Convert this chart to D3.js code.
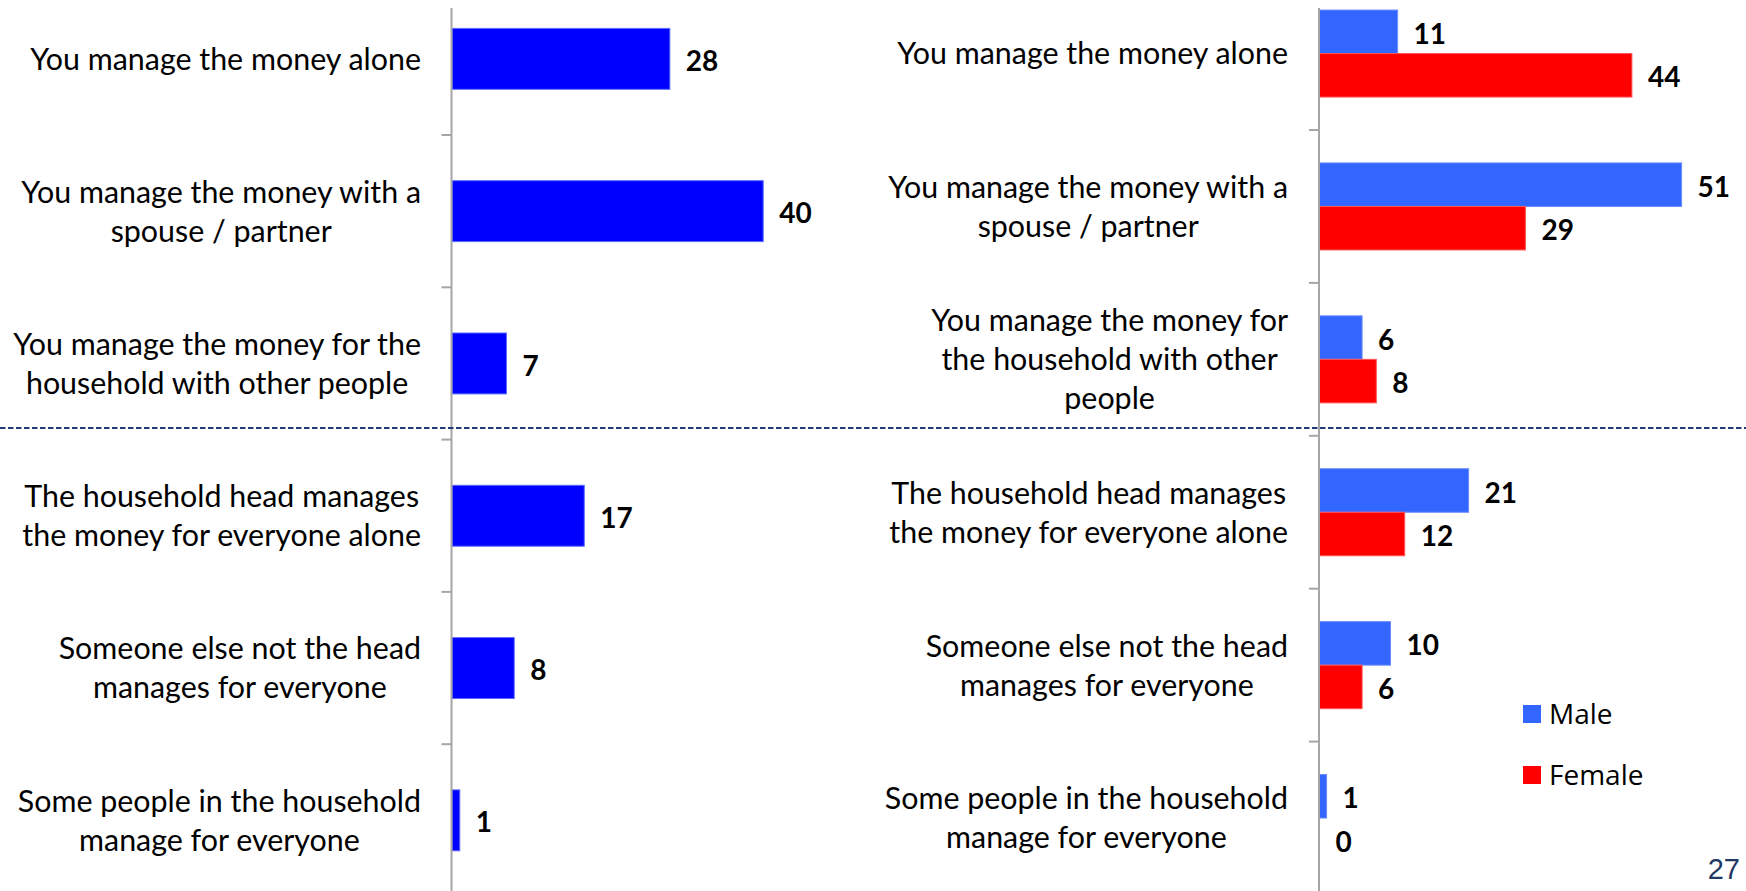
<!DOCTYPE html>
<html>
<head>
<meta charset="utf-8">
<script src="https://cdn.jsdelivr.net/npm/d3@7/dist/d3.min.js"></script>
<style>
  html, body { margin: 0; padding: 0; background: #fff; overflow: hidden; }
  svg { display: block; }
</style>
</head>
<body>
<svg id="chart" width="1746" height="891"></svg>
<script>
// Who manages the household money — overall and by gender (%)
const categories = [
  "You manage the money alone",
  "You manage the money with a spouse / partner",
  "You manage the money for the household with other people",
  "The household head manages the money for everyone alone",
  "Someone else not the head manages for everyone",
  "Some people in the household manage for everyone"
];

// Line breaks used for the category labels of each panel
const leftLabelLines = [
  ["You manage the money alone"],
  ["You manage the money with a", "spouse / partner"],
  ["You manage the money for the", "household with other people"],
  ["The household head manages", "the money for everyone alone"],
  ["Someone else not the head", "manages for everyone"],
  ["Some people in the household", "manage for everyone"]
];
const rightLabelLines = [
  ["You manage the money alone"],
  ["You manage the money with a", "spouse / partner"],
  ["You manage the money for", "the household with other", "people"],
  ["The household head manages", "the money for everyone alone"],
  ["Someone else not the head", "manages for everyone"],
  ["Some people in the household", "manage for everyone"]
];

const totalValues  = [28, 40, 7, 17, 8, 1];
const maleValues   = [11, 51, 6, 21, 10, 1];
const femaleValues = [44, 29, 8, 12, 6, 0];

const seriesNames = ["Male", "Female"];
const pageNumber = "27";

const svg = d3.select("#chart");

const LABEL_FONT = "Lato, 'Open Sans', sans-serif";
const colors = { total: "#0000FF", Male: "#3366FF", Female: "#FF0000" };

// ---------- shared helpers ----------
function drawCategoryAxis(g, y, axisX, top, bottom) {
  g.append("line")
    .attr("x1", axisX).attr("x2", axisX)
    .attr("y1", top).attr("y2", bottom)
    .attr("stroke", "#A6A6A6").attr("stroke-width", 2);
  // tick marks sit on the boundaries between categories
  g.selectAll("line.tick")
    .data(categories.slice(1))
    .join("line")
    .attr("class", "tick")
    .attr("x1", axisX - 10).attr("x2", axisX)
    .attr("y1", d => y(d)).attr("y2", d => y(d))
    .attr("stroke", "#A6A6A6").attr("stroke-width", 2);
}

function drawCategoryLabels(g, y, lines, rightEdge) {
  const lineH = 39;
  categories.forEach((c, i) => {
    const block = g.append("g");
    const ls = lines[i];
    const cy = y(c) + y.bandwidth() / 2;
    const texts = ls.map((t, k) =>
      block.append("text")
        .attr("x", 0)
        .attr("y", cy + (k - (ls.length - 1) / 2) * lineH)
        .attr("dy", "0.36em")
        .attr("text-anchor", "middle")
        .attr("font-family", LABEL_FONT)
        .attr("font-size", 30.4)
        .attr("fill", "#000")
        .text(t)
    );
    const maxW = d3.max(texts, t => t.node().getComputedTextLength());
    block.attr("transform", `translate(${rightEdge - maxW / 2},0)`);
  });
}

function valueLabel(g, x, yc, v) {
  g.append("text")
    .attr("x", x)
    .attr("y", yc + 2)
    .attr("dy", "0.36em")
    .attr("font-family", LABEL_FONT)
    .attr("font-weight", 700)
    .attr("font-size", 28)
    .attr("fill", "#000")
    .text(v);
}

// ---------- left panel: all respondents ----------
const yL = d3.scaleBand().domain(categories).range([-17.3, 896.5]).padding(0);
const xL = d3.scaleLinear().domain([0, 50]).range([452, 452 + 389]);

const left = svg.append("g");
drawCategoryLabels(left, yL, leftLabelLines, 421);

const barHL = yL.bandwidth() * 0.4;
left.selectAll("rect.bar")
  .data(categories)
  .join("rect")
  .attr("class", "bar")
  .attr("x", xL(0))
  .attr("y", d => yL(d) + (yL.bandwidth() - barHL) / 2)
  .attr("width", (d, i) => xL(totalValues[i]) - xL(0))
  .attr("height", barHL)
  .attr("fill", colors.total)
  .attr("stroke", "#5a6cff")
  .attr("stroke-width", 1);

categories.forEach((c, i) => {
  valueLabel(left, xL(totalValues[i]) + 16, yL(c) + yL.bandwidth() / 2, totalValues[i]);
});
drawCategoryAxis(left, yL, 451.5, 8, 891);

// ---------- right panel: by gender ----------
const yR = d3.scaleBand().domain(categories).range([-22.9, 894.5]).padding(0);
const ySub = d3.scaleBand().domain(seriesNames).range([0, yR.bandwidth()])
  .paddingInner(0).paddingOuter(0.757);
const xR = d3.scaleLinear().domain([0, 60]).range([1319.5, 1319.5 + 426]);

const right = svg.append("g");
drawCategoryLabels(right, yR, rightLabelLines, 1288);

const genderRows = categories.map((c, i) => [
  { cat: c, key: "Male", value: maleValues[i] },
  { cat: c, key: "Female", value: femaleValues[i] }
]).flat();

right.selectAll("rect.bar")
  .data(genderRows)
  .join("rect")
  .attr("class", "bar")
  .attr("x", xR(0))
  .attr("y", d => yR(d.cat) + ySub(d.key))
  .attr("width", d => xR(d.value) - xR(0))
  .attr("height", ySub.bandwidth())
  .attr("fill", d => colors[d.key])
  .attr("stroke", d => d.key === "Male" ? "#6b8cff" : "#ff5555")
  .attr("stroke-width", 1);

genderRows.forEach(d => {
  valueLabel(right, xR(d.value) + 16, yR(d.cat) + ySub(d.key) + ySub.bandwidth() / 2, d.value);
});
drawCategoryAxis(right, yR, 1319, 8, 891);

// ---------- separator between own management and others managing ----------
svg.append("line")
  .attr("x1", 0).attr("x2", 1746)
  .attr("y1", 428).attr("y2", 428)
  .attr("stroke", "#1F3B7A").attr("stroke-width", 2)
  .attr("stroke-dasharray", "5.5,2.5");

// ---------- legend ----------
const legend = svg.append("g").attr("transform", "translate(1523,705)");
seriesNames.forEach((s, i) => {
  const row = legend.append("g").attr("transform", `translate(0,${i * 61})`);
  row.append("rect").attr("width", 18).attr("height", 18).attr("fill", colors[s]);
  row.append("text")
    .attr("x", 26).attr("y", 9).attr("dy", "0.36em")
    .attr("font-family", "'Open Sans', sans-serif")
    .attr("font-size", 28)
    .attr("fill", "#000")
    .text(s);
});

// ---------- page number ----------
svg.append("text")
  .attr("x", 1740).attr("y", 879)
  .attr("text-anchor", "end")
  .attr("font-family", "'Liberation Sans', Arial, sans-serif")
  .attr("font-size", 29)
  .attr("fill", "#1F3864")
  .text(pageNumber);
</script>
</body>
</html>
